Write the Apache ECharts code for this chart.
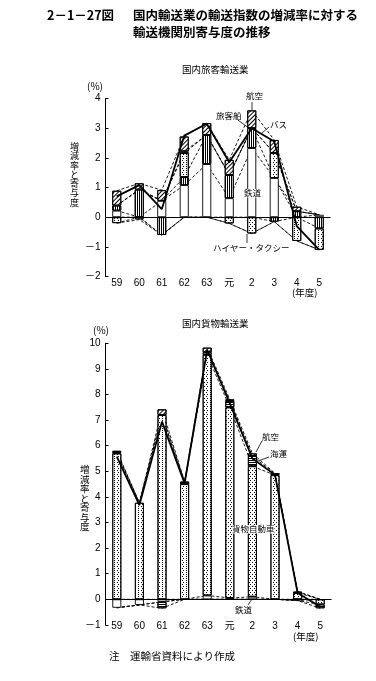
<!DOCTYPE html>
<html><head><meta charset="utf-8">
<script src="https://cdn.jsdelivr.net/npm/echarts/dist/echarts.min.js"></script>
<style>html,body{margin:0;padding:0;background:#fff}#c{width:376px;height:681px}</style>
</head><body><div id="c"></div>
<script>
// ---------- data ----------
const years = ['59','60','61','62','63','元','2','3','4','5'];
// 国内旅客輸送業 (寄与度, %)
const pRail  = [0.22, 0,    0.55, 1.08, 1.79, 0.64, 2.33, 1.32, 0,    0.08];
const pBus   = [0.17, 0.93, -0.6, 0.27, 0.98, 0.78, 0.67, -0.15, 0.2, -0.38];
const pTaxi  = [-0.2, 0,    0,    0.81, 0,    -0.21, -0.55, 0.84, -0.8, -0.72];
const pShip  = [0,    -0.08, 0,   0.06, 0,    0,    0,    0,    0,    0];
const pAir   = [0.5,  0.21, 0.36, 0.5,  0.4,  0.51, 0.6,  0.44, 0.15, 0];
const pTotal = [0.7,  1.08, 0.27, 2.75, 3.15, 1.85, 3.0,  2.55, -0.3, -1.1];
// 国内貨物輸送業 (寄与度, %)
const fRail  = [-0.33, -0.22, -0.1, 0,   0.15, 0.05, 0.1, 0,    -0.05, 0];
const fTruck = [5.7,   3.77,  7.2,  4.5, 9.4,  7.45, 5.1, 4.85, 0.25,  -0.2];
const fSea   = [0.05,  0,     -0.25, 0.1, 0.1, 0.25, 0.4, 0.05, 0.05,  -0.15];
const fAir   = [0.05,  0,     0.22, 0,   0.18, 0.06, 0.1, 0.02, 0,     0];
const fTotal = [5.57,  3.68,  6.94, 4.53, 9.74, 7.65, 5.5, 4.86, 0.25, -0.29];
const pTicks = [-2, 4, 1];
const fTicks = [-1, 10, 1];

// ---------- styles ----------
const FONT = "'Liberation Sans','Noto Sans CJK JP',sans-serif";
const JP = "'Noto Sans CJK JP',sans-serif";
const decals = {
  diag: {symbol:'rect', symbolSize:1, dashArrayX:[1,0], dashArrayY:[1,1.8], rotation:-Math.PI/4, color:'#000'},
  vstr: {symbol:'rect', symbolSize:1, dashArrayX:[1,0], dashArrayY:[1,1], rotation:Math.PI/2, color:'#000'},
  hstr: {symbol:'rect', symbolSize:1, dashArrayX:[1,0], dashArrayY:[1,1], rotation:0, color:'#000'},
  dots: {symbol:'rect', symbolSize:1, dashArrayX:[[1,2],[0,1.5,1,0.5]], dashArrayY:[1,0.5], color:'#000'}
};

function bar(name, data, g, fill, decal) {
  const it = {color: fill, borderColor:'#000', borderWidth:0.9};
  if (decal) it.decal = decal;
  return {type:'bar', name, stack:'s'+g, xAxisIndex:g, yAxisIndex:g, barWidth:9,
    data: data.map(v => v === 0 ? null : v), itemStyle: it, z:3, silent:true, animation:false};
}
function dashLines(arrs, g) {
  const out = [];
  const n = years.length;
  let pos = new Array(n).fill(0), neg = new Array(n).fill(0);
  const seen = new Set();
  arrs.forEach(a => {
    pos = pos.map((p,k) => p + Math.max(0, a[k]));
    neg = neg.map((p,k) => p + Math.min(0, a[k]));
    [pos.slice(), neg.slice()].forEach(c => {
      const key = c.map(v=>v.toFixed(3)).join(',');
      if (seen.has(key) || c.every(v => Math.abs(v) < 1e-9)) return;
      seen.add(key);
      out.push({type:'line', xAxisIndex:g, yAxisIndex:g, data:c.map(v=>+v.toFixed(3)), symbol:'none',
        lineStyle:{color:'#000', width:0.9, type:[3,2]}, z:1, silent:true, animation:false});
    });
  });
  return out;
}
function totalLine(data, g) {
  return {type:'line', xAxisIndex:g, yAxisIndex:g, data, symbol:'none',
    lineStyle:{color:'#000', width:1.8}, z:5, silent:true, animation:false,
    markLine:{symbol:'none', silent:true, label:{show:false}, lineStyle:{color:'#000', width:1, type:'solid'},
      data:[{yAxis:0}], animation:false}};
}
function yAx(t, g) {
  return {type:'value', gridIndex:g, min:t[0], max:t[1], interval:t[2],
    axisLine:{show:true, lineStyle:{color:'#000', width:1}},
    axisTick:{show:true, inside:true, length:3, lineStyle:{color:'#000'}},
    splitLine:{show:false},
    axisLabel:{color:'#000', fontSize:10, fontFamily:FONT, margin:5,
      formatter: v => v < 0 ? '－' + Math.abs(v) : String(v)}};
}
function xAx(g, margin) {
  return {type:'category', gridIndex:g, data:years, boundaryGap:true,
    axisLine:{show:false, onZero:false}, axisTick:{show:false},
    axisLabel:{color:'#000', fontSize:10, fontFamily:FONT, margin, interval:0}};
}
function txt(x, y, text, size, extra) {
  return {type:'text', x, y, silent:true, z:100,
    style:Object.assign({text, fill:'#000', font: (size||10)+'px '+JP, textBaseline:'top'}, extra||{})};
}
function vtxt(x, y, text, size, step) {
  return text.split('').map((ch,i) => txt(x, y + i*step, ch, size));
}
function seg(x1,y1,x2,y2) {
  return {type:'line', silent:true, z:100, shape:{x1,y1,x2,y2}, style:{stroke:'#000', lineWidth:0.8}};
}

const series = [];
series.push(...dashLines([pRail, pBus, pTaxi, pShip, pAir], 0));
series.push(bar('鉄道', pRail, 0, '#fff', null));
series.push(bar('バス', pBus, 0, '#fff', decals.vstr));
series.push(bar('ハイヤー・タクシー', pTaxi, 0, '#fff', decals.dots));
series.push(bar('旅客船', pShip, 0, '#444', null));
series.push(bar('航空', pAir, 0, '#fff', decals.diag));
series.push(totalLine(pTotal, 0));

series.push(...dashLines([fRail, fTruck, fSea, fAir], 1));
series.push(bar('鉄道', fRail, 1, '#fff', null));
series.push(bar('貨物自動車', fTruck, 1, '#fff', decals.dots));
series.push(bar('海運', fSea, 1, '#fff', decals.hstr));
series.push(bar('航空', fAir, 1, '#fff', decals.diag));
series.push(totalLine(fTotal, 1));

const vname = '増減率と寄与度';
const WB = {backgroundColor:'#fff'};
const graphic = [
  txt(47, 9, '2－1－27図', 12.5, {font:'bold 12.5px '+JP}),
  txt(133, 9, '国内輸送業の輸送指数の増減率に対する', 12.5, {font:'bold 12.5px '+JP}),
  txt(133, 26, '輸送機関別寄与度の推移', 12.5, {font:'bold 12.5px '+JP}),
  txt(182, 65, '国内旅客輸送業', 9.5),
  txt(87, 81, '(%)', 10),
  ...vtxt(70, 142, vname, 9, 9.3),
  txt(246, 92, '航空', 8.5, WB),
  seg(252, 102, 252, 110),
  txt(216, 112, '旅客船', 8.5, WB),
  seg(238, 120, 250, 129),
  txt(270, 121, 'バス', 8.5, WB),
  seg(269, 127, 262, 133),
  txt(244, 189, '鉄道', 8.5, WB),
  txt(213, 244, 'ハイヤー・タクシー', 8.5, WB),
  seg(247, 243, 247, 234),
  txt(292, 288, '(年度)', 9.5),

  txt(182, 319, '国内貨物輸送業', 9.5),
  txt(93, 325, '(%)', 10),
  ...vtxt(80, 465, vname, 9.5, 9.5),
  txt(262, 433, '航空', 8.5, WB),
  seg(262, 441, 256, 452),
  txt(270, 450, '海運', 8.5, WB),
  seg(269, 457, 258, 461),
  txt(232, 525, '貨物自動車', 8.5, WB),
  txt(235, 606, '鉄道', 8.5, WB),
  seg(248, 605, 252, 599),
  txt(293, 632, '(年度)', 9.5),

  txt(109, 651, '注　運輸省資料により作成', 10.5)
];

const chart = echarts.init(document.getElementById('c'), null, {renderer:'canvas'});
chart.setOption({
  animation:false,
  backgroundColor:'#fff',
  grid:[
    {left:105.5, top:98.5, width:225, height:178, outerBoundsMode:'none', containLabel:false},
    {left:105.5, top:343.3, width:226, height:281.6, outerBoundsMode:'none', containLabel:false}
  ],
  xAxis:[xAx(0, 2), xAx(1, -4)],
  yAxis:[yAx(pTicks, 0), yAx(fTicks, 1)],
  series,
  graphic
});
</script></body></html>
